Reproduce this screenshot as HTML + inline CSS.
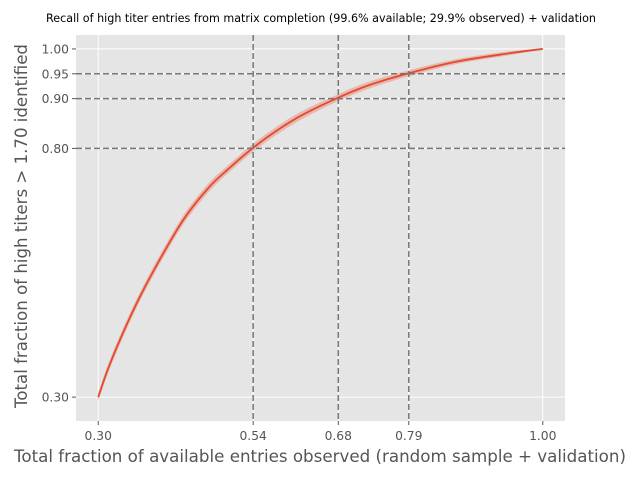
<!DOCTYPE html>
<html><head><meta charset="utf-8"><style>
body{margin:0;background:#fff;font-family:"Liberation Sans","DejaVu Sans",sans-serif}
svg text{font-family:"DejaVu Sans","Liberation Sans",sans-serif}
</style></head><body>
<svg id="chart" width="640" height="480" xmlns="http://www.w3.org/2000/svg">
<rect width="640" height="480" fill="#fff"/>
<text x="321" y="22" font-size="11.15" text-anchor="middle" fill="#000">Recall of high titer entries from matrix completion (99.6% available; 29.9% observed) + validation</text>
<rect x="76" y="35" width="489" height="386" fill="#e5e5e5"/>
<g id="grid"></g><g id="band"></g><g id="line"></g><g id="refs"></g><g id="ticks"></g>
<text x="320" y="462" font-size="16.7" text-anchor="middle" fill="#555">Total fraction of available entries observed (random sample + validation)</text>
<text transform="translate(27,226) rotate(-90)" font-size="16.6" text-anchor="middle" fill="#555">Total fraction of high titers &gt; 1.70 identified</text>
</svg>
<script>
const xTickVals=[0.30,0.544,0.678,0.789,1.00];
const xTickLabels=["0.30","0.54","0.68","0.79","1.00"];
const yTickVals=[0.30,0.80,0.90,0.95,1.00];
const yTickLabels=["0.30","0.80","0.90","0.95","1.00"];
const xs=[0.30,0.317,0.3435,0.3697,0.406,0.4375,0.4745,0.506,0.5426,0.579,0.621,0.676,0.726,0.789,0.862,0.946,1.00];
const ys=[0.30,0.362,0.442,0.512,0.597,0.663,0.722,0.760,0.800,0.834,0.867,0.901,0.927,0.951,0.974,0.991,1.00];
const band=[0.008,0.009,0.009,0.009,0.009,0.009,0.009,0.008,0.008,0.008,0.008,0.007,0.007,0.006,0.005,0.004,0.001];
const NS="http://www.w3.org/2000/svg";
const X=v=>76+(v-0.265)/(1.035-0.265)*489;
const Y=v=>421-(v-0.252)/(1.028-0.252)*386;
function mk(t,a,p){const e=document.createElementNS(NS,t);for(const k in a)e.setAttribute(k,a[k]);document.getElementById(p).appendChild(e);return e;}
xTickVals.forEach((v,i)=>{
 const g=mk('line',{x1:X(v),x2:X(v),y1:35,y2:421,stroke:'#fff','stroke-width':1},'grid');
 
 
 const tk=mk('line',{x1:X(v),x2:X(v),y1:421,y2:425,stroke:'#555'},'ticks');
 
 
 const t=mk('text',{x:X(v),y:440,'font-size':12.3,'text-anchor':'middle',fill:'#555'},'ticks');
 t.textContent=xTickLabels[i];
 
 
});
yTickVals.forEach((v,i)=>{
 const g=mk('line',{x1:76,x2:565,y1:Y(v),y2:Y(v),stroke:'#fff','stroke-width':1},'grid');
 
 
 const tk=mk('line',{x1:72,x2:76,y1:Y(v),y2:Y(v),stroke:'#555'},'ticks');
 
 
 const t=mk('text',{x:69,y:Y(v)+4.5,'font-size':12.3,'text-anchor':'end',fill:'#555'},'ticks');
 t.textContent=yTickLabels[i];
 
 
});
function pathFrom(pts){let d='M'+pts[0][0]+','+pts[0][1];for(let i=0;i<pts.length-1;i++){const p0=pts[Math.max(0,i-1)],p1=pts[i],p2=pts[i+1],p3=pts[Math.min(pts.length-1,i+2)];d+=' C'+(p1[0]+(p2[0]-p0[0])/6)+','+(p1[1]+(p2[1]-p0[1])/6)+' '+(p2[0]-(p3[0]-p1[0])/6)+','+(p2[1]-(p3[1]-p1[1])/6)+' '+p2[0]+','+p2[1];}return d;}
const up=xs.map((x,i)=>[X(x),Y(ys[i]+band[i])]);
const lo=xs.map((x,i)=>[X(x),Y(ys[i]-band[i])]).reverse();
const lp=pathFrom(lo);
const bd=pathFrom(up)+' L'+lo[0][0]+','+lo[0][1]+lp.slice(lp.indexOf(' '))+' Z';
const b=mk('path',{d:bd,fill:'#e8a898',opacity:0.75},'band');


const l=mk('path',{d:pathFrom(xs.map((x,i)=>[X(x),Y(ys[i])])),fill:'none',stroke:'#e24a33','stroke-width':1.8},'line');


[1,2,3].forEach(i=>{
 const v=mk('line',{x1:X(xTickVals[i]),x2:X(xTickVals[i]),y1:35,y2:421,stroke:'#777','stroke-width':1.5,'stroke-dasharray':'6,3'},'refs');
 
 
 const h=mk('line',{x1:76,x2:565,y1:Y(yTickVals[i]),y2:Y(yTickVals[i]),stroke:'#777','stroke-width':1.5,'stroke-dasharray':'6,3'},'refs');
 
 
});
</script>
</body></html>
